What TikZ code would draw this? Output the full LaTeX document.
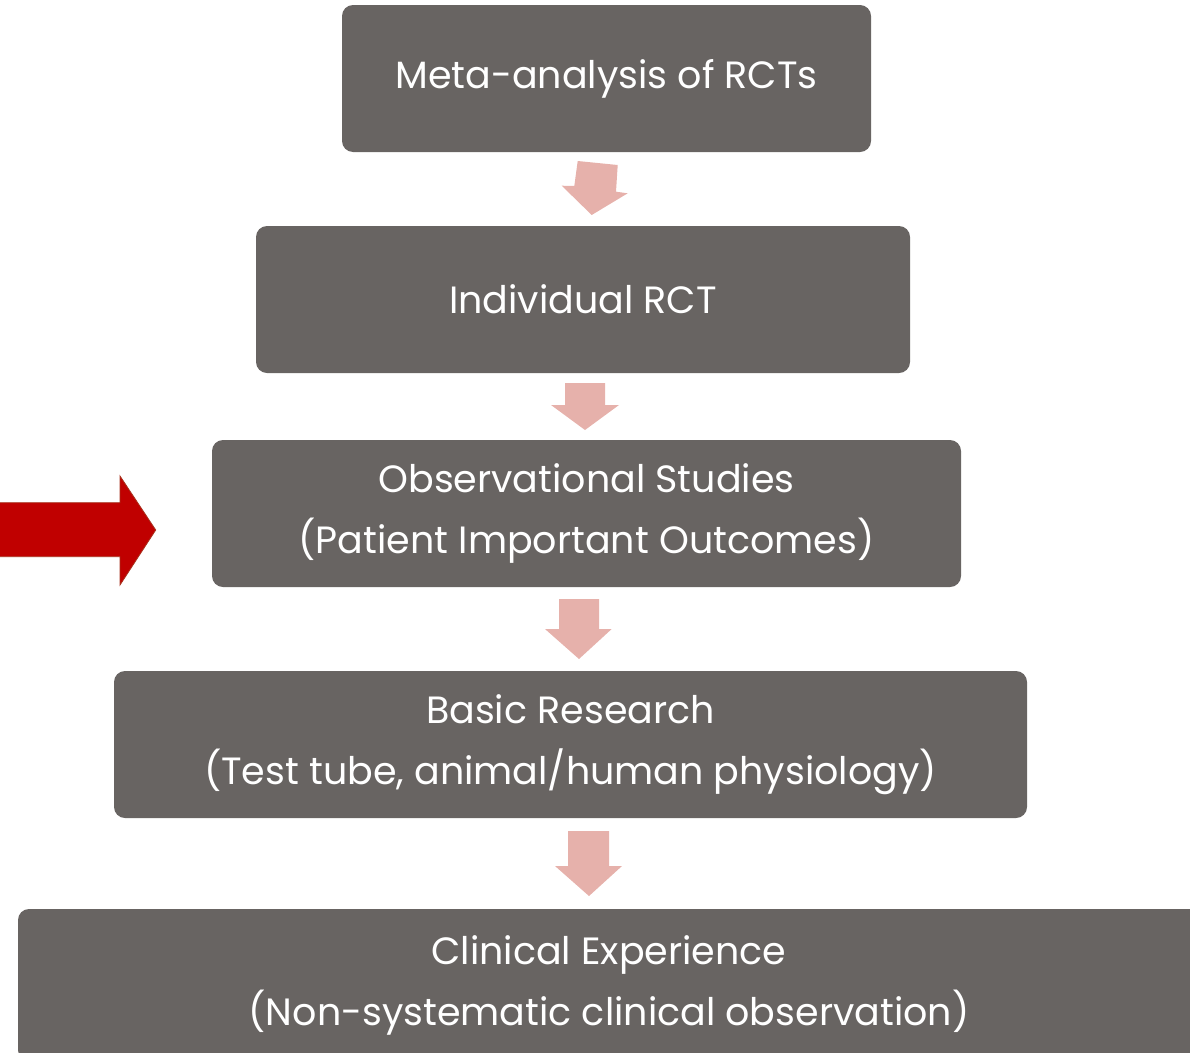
\documentclass[tikz,border=0pt]{standalone}
\usepackage{fontspec}
\setmainfont{Poppins}
\definecolor{boxgray}{HTML}{686462}
\definecolor{pinkarrow}{HTML}{E6B1AB}
\definecolor{redarrow}{HTML}{C00000}
\definecolor{rededge}{HTML}{A8321E}
\begin{document}
\begin{tikzpicture}[x=1pt,y=-1pt,
  level/.style={fill=boxgray, rounded corners=11pt, draw=none, text=white,
    align=center, inner sep=0pt, minimum height=147pt,
    font=\fontsize{38}{61}\selectfont},
  flow/.style={fill=pinkarrow, draw=none},
  pointer/.style={fill=redarrow, draw=rededge, line width=0.8pt}]
\useasboundingbox (0,0) rectangle (1190,1052);
\clip (0,0) rectangle (1190,1052);

% evidence levels
\node[level, minimum width=529pt] (meta) at (606.5,78.5) {Meta-analysis of RCTs};
\node[level, minimum width=654pt] (rct) at (583,299.5) {Individual RCT};
\node[level, minimum width=749pt] (obs) at (586.5,513.5)
  {Observational Studies\\(Patient Important Outcomes)};
\node[level, minimum width=913pt] (basic) at (570.5,744.5)
  {Basic Research\\(Test tube, animal/human physiology)};
\node[level, minimum width=1182pt, minimum height=152pt] (clin) at (609,985)
  {Clinical Experience\\(Non-systematic clinical observation)};

% block arrows between the levels
\fill[flow] (577.7,161) -- (617.7,165) -- (616,191.7) -- (627.7,193.3)
  -- (591.7,215) -- (561.7,185.7) -- (574.3,186) -- cycle;
\fill[flow] (565,383) -- (605,383) -- (605,405) -- (619,405)
  -- (585,430) -- (551,405) -- (565,405) -- cycle;
\fill[flow] (559,599) -- (599,599) -- (599,629) -- (611.7,629)
  -- (579,659) -- (545,629) -- (559,629) -- cycle;
\fill[flow] (568,831) -- (609,831) -- (609,866) -- (622,866)
  -- (589,896) -- (555,866) -- (568,866) -- cycle;

% red pointer at the observational level
\draw[pointer] (-2,502.7) -- (120,502.7) -- (120,476) -- (155.7,530)
  -- (120,585) -- (120,556.7) -- (-2,556.7) -- cycle;
\end{tikzpicture}
\end{document}
